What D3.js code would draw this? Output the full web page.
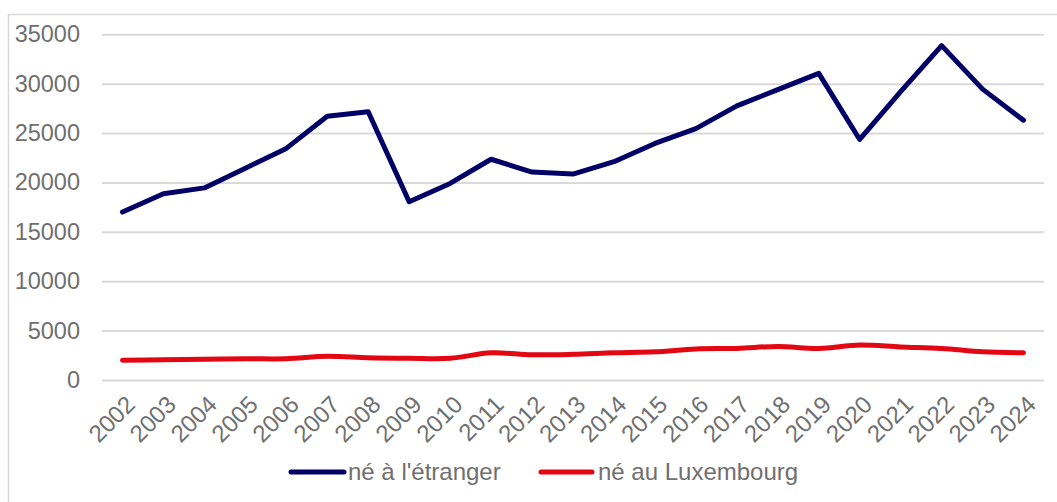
<!DOCTYPE html>
<html>
<head>
<meta charset="utf-8">
<script src="https://cdn.jsdelivr.net/npm/d3@7/dist/d3.min.js"></script>
<style>
  html, body { margin: 0; padding: 0; background: #fff; }
  svg { display: block; }
  text { font-family: "Liberation Sans", Arial, sans-serif; fill: #6f6f6f; }
</style>
</head>
<body>
<svg id="chart" width="1057" height="502"></svg>
<script>
const years = ["2002","2003","2004","2005","2006","2007","2008","2009","2010","2011","2012","2013","2014","2015","2016","2017","2018","2019","2020","2021","2022","2023","2024"];
const bornAbroad = [17000,18850,19450,21450,23450,26700,27150,18050,19900,22350,21050,20850,22100,23950,25450,27750,29400,31050,24350,29200,33850,29450,26300];
const bornLux = [2000,2050,2100,2150,2150,2400,2250,2200,2200,2750,2550,2600,2750,2850,3150,3200,3400,3200,3550,3350,3200,2850,2750];
const yTicks = [0,5000,10000,15000,20000,25000,30000,35000];
const seriesNames = ["né à l'étranger", "né au Luxembourg"];
const seriesColors = ["#000066", "#e30613"];

const svg = d3.select("#chart");
const W = 1057, H = 502;
const m = { left: 102, right: 1044, top: 34.3, bottom: 380 };

// outer frame
svg.append("path")
  .attr("d", `M8.5,${H} V14.5 H${W}`)
  .attr("fill", "none").attr("stroke", "#d9d9d9").attr("stroke-width", 1.5);

const x = d3.scaleBand().domain(years).range([m.left, m.right]);
const y = d3.scaleLinear().domain([0, 35000]).range([m.bottom, m.top]);
const px = d => x(d) + x.bandwidth() / 2;

// gridlines
const yAxis = d3.axisLeft(y).tickValues(yTicks).tickSize(-(m.right - m.left)).tickPadding(22).tickFormat(d3.format("d"));
const gy = svg.append("g").attr("transform", `translate(${m.left},0)`).call(yAxis);
gy.select(".domain").remove();
gy.selectAll(".tick line").attr("stroke", "#d9d9d9").attr("stroke-width", 2);
gy.selectAll(".tick text").attr("font-size", 23.5).attr("fill", "#6f6f6f")
  .attr("font-family", "Liberation Sans, Arial, sans-serif");

// x axis labels
const xAxis = d3.axisBottom(x).tickSize(0).tickPadding(0);
const gx = svg.append("g").attr("transform", `translate(0,${m.bottom})`).call(xAxis);
gx.select(".domain").remove();
gx.selectAll(".tick text")
  .attr("font-size", 24).attr("fill", "#6f6f6f")
  .attr("font-family", "Liberation Sans, Arial, sans-serif")
  .attr("text-anchor", "end")
  .attr("dy", null).attr("y", 0)
  .attr("transform", "translate(8,20) rotate(-45)")
  .attr("dominant-baseline", "central");

// lines
const lineStraight = d3.line().x((d, i) => px(years[i])).y(d => y(d));
const lineSmooth = d3.line().x((d, i) => px(years[i])).y(d => y(d)).curve(d3.curveCatmullRom.alpha(0.5));

svg.append("path").datum(bornLux)
  .attr("d", lineSmooth).attr("fill", "none")
  .attr("stroke", seriesColors[1]).attr("stroke-width", 5)
  .attr("stroke-linecap", "round").attr("stroke-linejoin", "round");

svg.append("path").datum(bornAbroad)
  .attr("d", lineStraight).attr("fill", "none")
  .attr("stroke", seriesColors[0]).attr("stroke-width", 5)
  .attr("stroke-linecap", "round").attr("stroke-linejoin", "round");

// legend
const legendItems = [
  { x1: 291, x2: 344, tx: 348 },
  { x1: 541, x2: 592, tx: 598 }
];
const ly = 472;
legendItems.forEach((it, i) => {
  svg.append("line").attr("x1", it.x1).attr("x2", it.x2).attr("y1", ly).attr("y2", ly)
    .attr("stroke", seriesColors[i]).attr("stroke-width", 5).attr("stroke-linecap", "round");
  svg.append("text").attr("x", it.tx).attr("y", ly).attr("dy", "0.35em")
    .attr("font-size", 24).text(seriesNames[i]);
});
</script>
</body>
</html>
